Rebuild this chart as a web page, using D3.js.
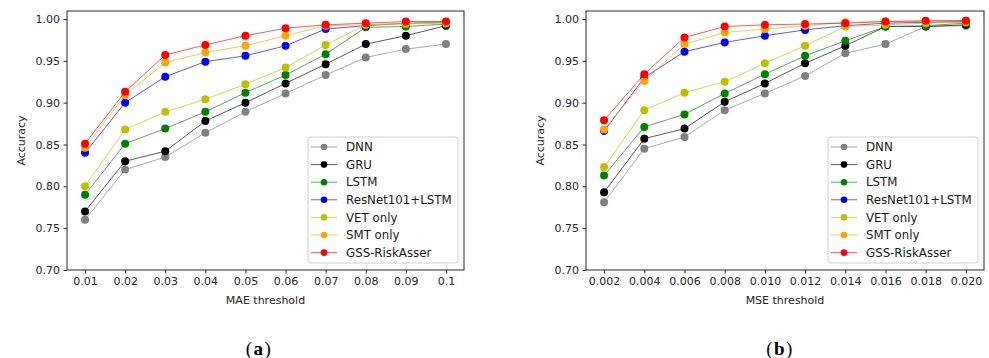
<!DOCTYPE html>
<html>
<head>
<meta charset="utf-8">
<script src="https://cdn.jsdelivr.net/npm/d3@7"></script>
<style>
  body { margin: 0; background: #fff; }
  svg { display: block; }
</style>
</head>
<body>
<div id="chart"></div>
<script>
const seriesNames = ['DNN', 'GRU', 'LSTM', 'ResNet101+LSTM', 'VET only', 'SMT only', 'GSS-RiskAsser'];
const seriesColors = ['#808080', '#000000', '#008000', '#0000ff', '#bfbf00', '#ffa500', '#ff0000'];

const maeThresholds = [0.01, 0.02, 0.03, 0.04, 0.05, 0.06, 0.07, 0.08, 0.09, 0.1];
const maeTickLabels = ['0.01', '0.02', '0.03', '0.04', '0.05', '0.06', '0.07', '0.08', '0.09', '0.1'];
const maeDNN    = [0.760, 0.820, 0.835, 0.864, 0.889, 0.911, 0.933, 0.954, 0.964, 0.970];
const maeGRU    = [0.770, 0.830, 0.842, 0.878, 0.900, 0.923, 0.946, 0.970, 0.980, 0.992];
const maeLSTM   = [0.790, 0.851, 0.869, 0.889, 0.912, 0.933, 0.958, 0.990, 0.991, 0.994];
const maeResNet = [0.840, 0.900, 0.931, 0.949, 0.956, 0.968, 0.988, 0.992, 0.995, 0.996];
const maeVET    = [0.800, 0.868, 0.889, 0.904, 0.922, 0.942, 0.969, 0.993, 0.994, 0.995];
const maeSMT    = [0.846, 0.909, 0.948, 0.960, 0.968, 0.980, 0.992, 0.993, 0.995, 0.996];
const maeGSS    = [0.851, 0.913, 0.957, 0.969, 0.980, 0.989, 0.993, 0.995, 0.997, 0.997];

const mseThresholds = [0.002, 0.004, 0.006, 0.008, 0.010, 0.012, 0.014, 0.016, 0.018, 0.020];
const mseTickLabels = ['0.002', '0.004', '0.006', '0.008', '0.010', '0.012', '0.014', '0.016', '0.018', '0.020'];
const mseDNN    = [0.781, 0.845, 0.859, 0.891, 0.911, 0.932, 0.959, 0.970, 0.991, 0.992];
const mseGRU    = [0.793, 0.857, 0.869, 0.901, 0.923, 0.947, 0.968, 0.991, 0.991, 0.993];
const mseLSTM   = [0.813, 0.871, 0.886, 0.911, 0.934, 0.956, 0.974, 0.991, 0.992, 0.995];
const mseResNet = [0.866, 0.930, 0.961, 0.972, 0.980, 0.987, 0.992, 0.995, 0.996, 0.997];
const mseVET    = [0.823, 0.891, 0.912, 0.925, 0.947, 0.968, 0.991, 0.993, 0.995, 0.996];
const mseSMT    = [0.868, 0.926, 0.970, 0.984, 0.988, 0.992, 0.996, 0.997, 0.997, 0.998];
const mseGSS    = [0.879, 0.934, 0.978, 0.991, 0.993, 0.994, 0.995, 0.997, 0.998, 0.998];

const yTicks = [0.70, 0.75, 0.80, 0.85, 0.90, 0.95, 1.00];

const W = 989, H = 358;
const svg = d3.select('#chart').append('svg').attr('width', W).attr('height', H);
const font = 'DejaVu Sans, sans-serif';

function drawPanel(opts) {
  const { left, right, top, bottom, xDomain, xs, xTickLabels, series, xLabel, tag, tagX } = opts;
  const x = d3.scaleLinear().domain(xDomain).range([left, right]);
  const y = d3.scaleLinear().domain([0.7, 1.0]).range([bottom, 19]);
  const g = svg.append('g');

  // y axis
  const yAxis = d3.axisLeft(y).tickValues(yTicks).tickFormat(d3.format('.2f')).tickSize(3.5).tickPadding(3.5);
  const ya = g.append('g').attr('transform', `translate(${left},0)`).call(yAxis);
  ya.select('.domain').remove();
  ya.selectAll('text').attr('font-family', font).attr('font-size', 11).attr('fill', '#262626');
  ya.selectAll('line').attr('stroke', '#262626');

  // x axis
  const xAxis = d3.axisBottom(x).tickValues(xs).tickFormat((d, i) => xTickLabels[i]).tickSize(3.5).tickPadding(3.5);
  const xa = g.append('g').attr('transform', `translate(0,${bottom})`).call(xAxis);
  xa.select('.domain').remove();
  xa.selectAll('text').attr('font-family', font).attr('font-size', 11).attr('fill', '#262626');
  xa.selectAll('line').attr('stroke', '#262626');

  // lines and markers
  series.forEach((vals, si) => {
    const line = d3.line().x((d, i) => x(xs[i])).y(d => y(d));
    g.append('path').datum(vals)
      .attr('d', line).attr('fill', 'none')
      .attr('stroke', seriesColors[si]).attr('stroke-width', 1).attr('stroke-opacity', 0.65);
    g.selectAll(null).data(vals).enter().append('circle')
      .attr('cx', (d, i) => x(xs[i])).attr('cy', d => y(d)).attr('r', 4)
      .attr('fill', seriesColors[si]);
  });

  // frame
  g.append('rect').attr('x', left).attr('y', top).attr('width', right - left).attr('height', bottom - top)
    .attr('fill', 'none').attr('stroke', '#262626').attr('stroke-width', 1);

  // legend
  const lx = right - 156, ly = 137, lw = 150, lh = 126;
  const lg = g.append('g');
  lg.append('rect').attr('x', lx).attr('y', ly).attr('width', lw).attr('height', lh).attr('rx', 3)
    .attr('fill', '#fff').attr('fill-opacity', 0.8).attr('stroke', '#d0d0d0').attr('stroke-width', 1);
  seriesNames.forEach((name, si) => {
    const cy = ly + 10 + si * 17.6;
    lg.append('line').attr('x1', lx + 3).attr('x2', lx + 29).attr('y1', cy).attr('y2', cy)
      .attr('stroke', seriesColors[si]).attr('stroke-width', 1).attr('stroke-opacity', 0.65);
    lg.append('circle').attr('cx', lx + 16).attr('cy', cy).attr('r', 3.3).attr('fill', seriesColors[si]);
    lg.append('text').attr('x', lx + 38).attr('y', cy).attr('dy', '0.36em')
      .attr('font-family', font).attr('font-size', 11.8).attr('fill', '#1a1a1a').text(name);
  });

  // labels
  g.append('text').attr('x', (left + right) / 2).attr('y', 300).attr('dy', '0.36em')
    .attr('text-anchor', 'middle').attr('font-family', font).attr('font-size', 11).attr('fill', '#262626')
    .text(xLabel);
  g.append('text').attr('transform', `translate(${left - 46},${(top + bottom) / 2}) rotate(-90)`)
    .attr('text-anchor', 'middle').attr('dy', '0.36em').attr('font-family', font).attr('font-size', 11)
    .attr('fill', '#262626').text('Accuracy');

  const t = g.append('text').attr('x', tagX).attr('y', 348).attr('dy', '0.35em').attr('text-anchor', 'middle')
    .attr('font-family', 'Liberation Serif, serif').attr('font-size', 19).attr('letter-spacing', 1.5)
    .attr('fill', '#000');
  t.append('tspan').text('(');
  t.append('tspan').attr('font-weight', 'bold').text(tag);
  t.append('tspan').text(')');
}

drawPanel({
  left: 67, right: 464, top: 11, bottom: 270,
  xDomain: [0.0055, 0.1045], xs: maeThresholds, xTickLabels: maeTickLabels,
  series: [maeDNN, maeGRU, maeLSTM, maeResNet, maeVET, maeSMT, maeGSS],
  xLabel: 'MAE threshold', tag: 'a', tagX: 259
});

drawPanel({
  left: 586, right: 984, top: 11, bottom: 270,
  xDomain: [0.0011, 0.0209], xs: mseThresholds, xTickLabels: mseTickLabels,
  series: [mseDNN, mseGRU, mseLSTM, mseResNet, mseVET, mseSMT, mseGSS],
  xLabel: 'MSE threshold', tag: 'b', tagX: 780
});
</script>
</body>
</html>
